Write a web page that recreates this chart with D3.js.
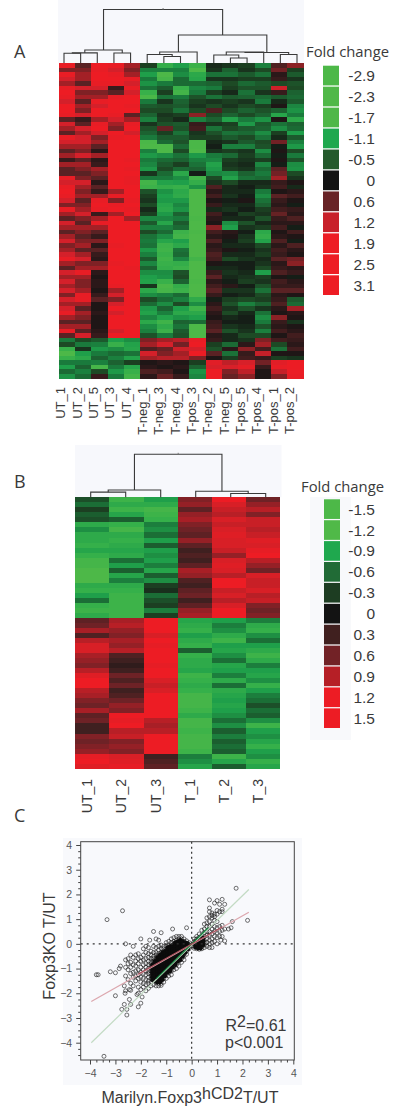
<!DOCTYPE html>
<html>
<head>
<meta charset="utf-8">
<script src="https://d3js.org/d3.v7.min.js"></script>
<style>
  body { margin: 0; background: #fff; }
  svg { display: block; }
  text { font-family: "Liberation Sans", Arial, sans-serif; fill: #3a3a3a; }
  .letter, .legend-title { font-family: "Open Sans", sans-serif; }
</style>
</head>
<body>
<div id="chart"></div>
<script>
// panel A
const labelsA = ["UT_1","UT_2","UT_5","UT_3","UT_4","T-neg_1","T-neg_3","T-neg_4","T-pos_3","T-neg_2","T-neg_5","T-pos_5","T-pos_4","T-pos_1","T-pos_2"];
const levelsA = [-2.9,-2.3,-1.7,-1.1,-0.5,0,0.6,1.2,1.9,2.5,3.1];
const coloursA = ["#4db848","#50b848","#4fb748","#1fa84e","#245a2c","#131313","#682326","#c8202a","#ed1c24","#ed1c24","#ed1c24"];
// 格子用的色阶, 比图例更平缓
const rampA = ["#4db848","#38b04a","#1f9f4a","#1a7a3c","#1d4a25","#131313","#5a2224","#a32026","#d4202a","#e81d25","#ed1c24"];
const ut1A = [2.5,0.9,2.5,1.9,1.2,2.5,3.1,2.5,1.9,3.1,3.1,2.5,0.6,1.9,1.2,0.6,2.5,1.9,1.2,0.6,1.2,0.3,1.2,0.6, 0.6,2.5,1.9,2.5,3.1,2.5,1.9,0.9,2.5,1.2,0.6,1.9,1.2,0.6,1.2,1.9,0.9,1.2,1.9,2.5,1.2,0.6,1.9,1.2,1.9, 1.2,1.9,0.9,1.9,1.2,1.9,2.5,1.2,0.6,1.2,2.5,0.6, -1.1,-0.5,-2.3,-2.9,-2.3,-1.1,-1.7,-0.9,-1.5];
const ut2A = [0.6,0.9,1.2,1.2,0.6,1.9,0.9,1.2,0.6,1.2,0.9,1.9,0.3,0.6,1.9,1.2,1.9,1.9,1.2,0.9,1.9,0.6,1.2,0.9, 0.6,0.9,1.9,1.2,0.9,1.2,0.6,0.9,1.2,1.9,0.9,0.6,1.2,0.9,0.6,0.9,1.2,0.6,1.2,1.9,0.9,1.2,2.5,1.2,0.9, 0.9,1.2,2.5,2.5,1.2,0.6,1.2,0.9,0.6,1.2,0.6,1.9, -0.5,-1.1,-0.3,-1.7,-2.0,-1.1,-0.8,-1.2,-0.9];
const ut5A = [3.1,2.5,3.1,3.1,2.5,1.9,0.9,1.2,2.5,1.9,3.1,3.1,1.2,2.5,3.1,1.9,0.9,1.2,0.6,0.2,1.2,0.2,0.3,1.2, 0.9,0.6,0.2,0.6,0.3,1.2,2.5,3.1,2.5,0.3,1.2,2.5,1.2,0.6,0.3,0.9,0.2,0.6,0.3,0.2,0.9,1.2,0.2,0.1,0.2, 0.2,0.1,0.3,0.6,0.1,0.1,0.2,0.1,0.1,0.1,0.2,0.3, -0.7,-1.2,-1.6,-1.1,-0.8,-1.2,-2.7,-0.5,0.3];
const ut3A = [2.5,1.9,2.5,3.1,2.5,0.3,0.6,2.5,3.1,3.1,3.1,2.5,1.9,1.2,0.9,3.1,2.5,3.1,3.1,3.1,3.1,3.1,3.1,3.1, 3.1,3.1,3.1,3.1,1.2,2.5,0.9,2.5,3.1,1.2,3.1,3.1,3.1,3.1,3.1,3.1,2.5,3.1,3.1,3.1,2.5,3.1,3.1,3.1,3.1, 2.5,1.2,1.9,0.9,1.9,3.1,1.9,3.1,3.1,3.1,1.9,3.1, -1.7,-2.3,-1.4,-0.9,-1.2,-0.8,-1.1,-1.6,-1.1];
const ut4A = [1.2,0.9,1.2,2.5,1.9,2.5,1.9,3.1,3.1,2.5,3.1,0.6,1.2,2.5,3.1,1.9,3.1,3.1,3.1,3.1,3.1,2.5,3.1,2.5, 3.1,2.5,2.5,3.1,3.1,3.1,2.5,3.1,2.5,3.1,1.2,3.1,3.1,3.1,3.1,3.1,3.1,3.1,3.1,3.1,3.1,2.5,3.1,3.1,3.1, 3.1,3.1,3.1,3.1,3.1,3.1,3.1,3.1,3.1,3.1,3.1,3.1, -1.4,-1.8,-1.9,-1.0,-1.8,-0.4,-1.9,-2.3,-2.6];
const tneg1A = [-0.4,-1.2,-1.7,-1.1,-1.5,-1.0,-2.3,-2.8,-1.1,-0.7,-0.5,-0.8,-1.2,-0.3,-0.6,-0.8,-1.1,-2.8,-2.9,-1.2,-1.6,-1.1,-1.3,-1.6, -0.3,-1.1,-2.6,-2.4,-0.6,-0.4,-0.3,-0.5,-0.2,-0.4,-1.3,-0.7,-1.2,-0.5,-1.0,-1.1,-1.0,-1.6,-1.2,-0.7,-1.3,-0.8,-1.4,-1.7,-1.8, -0.3,-2.0,-1.4,-0.5,-0.9,-1.6,-1.8,-1.3,-2.0,-1.4,-1.2,-0.6, 0.9,1.2,0.5,1.9,1.2,0.1,0.2,0.5,0.2];
const tneg3A = [-2.2,-1.2,-2.9,-2.7,-1.1,-0.7,-0.4,-1.0,-0.3,-0.6,-0.5,-0.3,-0.4,-0.6,0.7,-0.4,-0.7,-0.9,-2.9,-2.9,-1.4,-0.9,-0.7,-0.5, -0.9,-1.1,-1.8,-2.2,-1.5,-1.7,-1.6,-1.9,-2.0,-1.6,-1.3,-1.9,-1.2,-0.9,-1.4,-1.9,-2.4,-2.5,-2.3,-2.5,-2.3,-2.2,-1.4,-1.5,-2.3, -2.8,-2.7,-1.2,-0.9,-1.4,-0.8,-1.2,-1.8,-2.5,-2.1,-2.4,-1.1, 1.2,1.9,0.7,0.9,1.5,0.2,0.1,0.4,0.7];
const tneg4A = [-1.7,-1.2,-1.4,-0.9,-0.9,-2.3,-2.6,-1.1,-0.8,-0.7,-1.0,-0.4,-0.2,-0.7,-0.6,-1.0,-0.7,-0.6,-0.9,-0.5,-1.0,-0.8,-0.4,-0.9, -2.0,-1.4,-1.7,-2.3,-2.0,-2.1,-1.6,-1.3,-1.5,-0.8,-1.1,-0.7,-0.9,-2.4,-2.6,-1.7,-2.0,-1.0,-0.9,-1.3,-2.2,-2.4,-0.6,-0.5,-0.8, -2.2,-2.4,-0.9,-1.2,-0.5,-1.7,-2.0,-1.5,-0.8,-1.0,-0.7,-0.6, 1.5,0.8,1.8,1.2,1.5,0.1,0.2,0.1,0.3];
const tpos3A = [-2.4,-2.9,-2.0,-1.9,-0.9,-1.3,-1.1,-0.6,-0.4,-0.3,-0.5,1.0,-1.2,0.3,0.4,-0.3,-0.4,-2.8,-2.8,-2.9,-1.6,-1.2,-1.0,-0.8, -0.1,-2.6,-2.2,-1.5,-2.9,-2.9,-2.9,-2.9,-2.9,-2.9,-2.8,-2.9,-2.9,-2.8,-2.9,-2.9,-2.9,-2.9,-2.9,-2.6,-2.9,-2.9,-2.9,-2.9,-2.8, -2.9,-2.9,-2.9,-2.1,-1.4,-2.5,-2.0,-1.7,-0.9,-2.9,-2.9,-2.9, 2.5,3.1,1.9,3.1,0.9,-0.4,-0.8,-1.5,-1.3];
const tneg2A = [-0.2,-0.3,-1.0,-0.3,-0.8,-1.1,-0.4,-1.0,-0.3,-0.5,0.5,-0.5,-0.8,-0.3,-1.0,-0.6,-0.4,-0.2,-0.1,-0.3,-1.1,-1.3,-1.8,-1.6, -1.3,-0.5,-0.3,0.5,0.2,0.4,0.1,0.3,-0.2,0.4,0.2,0.1,1.0,0.4,0.2,0.5,0.2,0.3,0.5,0.4,0.1,-0.2,0.3,0.6,0.2, 0.4,0.6,0.3,-0.1,0.2,0.4,0.2,0.1,0.3,0.4,0.6,0.2, 0.3,-0.4,-0.6,0.6,0.1,2.3,2.0,3.0,3.0];
const tneg5A = [-0.3,-0.8,-1.0,-0.3,-0.5,-0.4,-0.2,-0.7,-0.4,-0.3,-0.5,-0.8,-1.8,-0.4,-0.5,-1.0,-0.7,-0.3,-1.2,-0.4,-0.9,-0.4,-0.3,-0.4, -1.4,-1.8,-0.5,-0.2,-0.2,-0.3,-0.1,-0.2,-0.3,-0.1,-0.2,-1.4,-1.7,0.2,0.1,-0.1,-0.2,0.1,-0.2,-0.5,-0.1,-0.2,-0.3,-0.2,-0.1, 0.2,-0.3,-0.1,-0.4,-0.6,-0.3,-0.5,-0.2,-0.1,-0.3,-0.6,-0.2, -0.2,-0.9,0.2,-1.0,-0.4,1.6,2.0,0.9,0.7];
const tpos5A = [-0.4,-0.3,-0.7,-0.4,-0.9,-0.6,-1.0,-0.8,-0.3,-0.5,-0.8,-0.5,-1.1,-1.6,-0.7,-0.9,-0.5,-0.7,-1.2,-0.3,-0.4,-0.3,-0.2,-0.3, -0.8,-1.0,-0.2,-0.1,-0.2,-0.1,0.1,-0.2,-0.1,-0.4,-0.2,-0.6,-0.3,-0.1,-0.3,-0.4,-0.2,-0.1,-0.2,-0.3,-0.1,-0.1,-0.2,-0.3,-0.4, -0.1,-0.3,-0.2,-0.5,-1.2,-0.6,-0.2,-0.1,-0.1,-0.2,-0.3,-0.5, -0.3,0.2,1.0,0.3,0.4,2.0,2.4,1.6,1.0];
const tpos4A = [-1.2,-0.5,-1.0,-0.4,-0.7,-0.6,-0.3,-0.9,-1.1,-0.4,-0.6,-0.8,-1.5,-0.7,-0.8,-1.4,-1.0,-0.5,-0.6,-1.4,-0.9,-0.4,-1.3,-0.9, -1.1,-0.9,-0.2,-0.3,-1.1,-1.4,-1.0,-0.8,-0.4,-0.3,-0.6,-0.2,-0.4,-2.0,-2.2,-1.8,-0.5,-0.3,-0.4,-0.2,-0.3,-0.5,-1.7,-0.4,-0.3, -0.6,-1.0,-0.5,-0.4,-0.8,-0.3,-1.0,-1.4,-1.1,-0.6,-1.2,-0.5, 0.9,1.2,0.4,1.7,0.3,0.8,0.3,0.1,0.1];
const tpos1A = [0.5,0.8,0.2,0.3,-0.5,1.8,0.3,-0.7,-0.2,0.1,-0.8,-1.9,0.1,-1.0,-1.4,-0.4,-0.2,0.8,-0.1,0.1,-0.1,0.1,-0.1,0.6, 0.8,1.2,0.3,0.4,0.1,0.6,0.3,0.2,0.4,0.7,0.3,0.2,0.4,0.1,0.2,0.5,0.2,0.4,0.3,0.6,0.2,0.3,0.5,0.1,0.4, 0.3,0.6,0.2,0.3,0.5,0.2,0.1,1.0,0.3,0.2,0.4,0.1, 0.4,-0.5,-1.0,0.1,-0.4,2.3,2.5,1.7,0.9];
const tpos2A = [1.0,-0.4,-0.7,-0.3,-0.6,-0.5,-0.8,-0.9,-0.7,-1.3,-1.5,-1.1,-2.0,-0.8,-0.9,-1.7,-0.7,-1.2,-1.6,-0.5,-1.1,-0.6,-1.4,-1.5, -0.5,-0.3,0.1,-0.2,0.2,0.4,0.1,-0.1,0.3,0.2,0.5,0.2,-0.1,0.4,0.1,-0.1,0.5,0.2,0.1,0.8,1.0,0.2,0.3,-0.1,0.2, 0.3,0.6,0.1,-0.7,-0.9,1.2,0.2,0.1,-0.3,0.1,0.2,0.4, 0.3,0.2,0.4,0.1,-0.3,3.0,3.0,2.8,2.5];
const columnsA = [ut1A,ut2A,ut5A,ut3A,ut4A,tneg1A,tneg3A,tneg4A,tpos3A,tneg2A,tneg5A,tpos5A,tpos4A,tpos1A,tpos2A];
// 树: [高度, 左, 右], 叶子是列序号
const treeA = [1, [0.243,[0.19,[0.182,0,1],2],[0.187,3,4]], [0.523,[0.206,[0.159,5,[0.122,6,7]],8],[0.196,[0.206,[0.15,9,[0.093,10,11]],12],[0.159,13,14]]]];

// panel B
const labelsB = ["UT_1","UT_2","UT_3","T_1","T_2","T_3"];
const levelsB = [-1.5,-1.2,-0.9,-0.6,-0.3,0,0.3,0.6,0.9,1.2,1.5];
const coloursB = ["#4db848","#50b948","#1fa84e","#216b36","#1d3d22","#131313","#40201f","#722226","#b61f26","#ed1c24","#ed1c24"];
const rampB = ["#4db848","#35b04a","#1f9f4a","#1b6e36","#1c3f22","#131313","#3f2020","#6e2226","#a81f26","#d81f26","#ed1c24"];
const ut1B = [-0.4,-0.6,-0.3,-0.5,-0.4,-1.1,-0.8,-1.1,-1.1,-1.2,-1.0,-1.2,-1.4,-1.4,-1.5,-1.5,-1.5,-1.1,-1.2,-0.9,-0.6,-1.2,-1.3,-1.1, 0.5,0.6,0.9,0.4,1.0,1.2,1.2,0.9,0.8,0.7,1.0,1.3,1.5,1.5,1.0,0.9,0.7,0.6,0.9,0.5,0.6,0.3,0.3,0.7,0.6,0.7,0.8,1.4,1.5,1.3];
const ut2B = [-1.3,-1.1,-1.3,-1.0,-0.5,-1.2,-1.4,-1.1,-1.2,-1.1,-1.0,-1.1,-0.6,-0.9,-0.5,-1.0,-0.7,-1.1,-1.2,-1.3,-1.3,-1.3,-1.3,-1.3, 0.9,1.0,0.8,0.7,0.9,0.8,1.0,0.4,0.3,0.2,0.3,0.6,0.4,0.6,0.3,0.4,0.6,0.8,0.7,1.5,1.4,1.5,1.0,1.1,0.7,0.8,0.7,1.2,1.3,1.4];
const ut3B = [-0.9,-1.1,-1.4,-1.3,-1.2,-0.7,-0.8,-0.6,-0.9,-0.5,-0.9,-0.8,-0.9,-0.7,-1.0,-0.5,-0.8,-0.3,-0.2,-0.6,-0.4,-0.3,-0.7,-0.3, 1.5,1.5,1.5,1.2,1.5,1.4,1.5,1.5,1.5,1.4,1.5,1.5,1.2,1.1,1.2,1.5,1.5,1.5,1.5,1.5,1.0,0.9,1.0,1.5,1.5,1.5,1.5,0.3,0.4,0.5];
const t1B = [0.7,0.8,0.5,0.8,0.9,0.7,0.6,0.5,0.8,0.5,0.3,0.4,0.3,0.5,0.9,0.8,0.4,0.3,0.5,0.6,0.3,0.5,0.8,0.9, -1.0,-1.1,-1.2,-0.9,-1.1,-1.2,-0.5,-1.2,-1.1,-1.1,-1.0,-1.3,-1.2,-1.1,-1.2,-1.4,-1.4,-1.4,-1.3,-1.1,-1.4,-1.4,-1.3,-1.4,-1.4,-1.4,-1.3,-0.7,-0.8,-1.0];
const t2B = [1.5,1.2,1.1,1.0,1.2,1.1,1.2,1.3,1.2,1.2,1.1,0.8,1.2,1.3,1.2,1.0,1.5,1.5,1.1,1.2,1.0,1.2,1.5,1.5, -0.9,-0.7,-0.8,-1.1,-1.3,-0.9,-1.0,-0.8,-0.6,-1.0,-0.9,-0.7,-1.1,-0.6,-1.1,-1.0,-0.9,-1.0,-0.9,-0.8,-0.6,-0.8,-0.5,-0.7,-0.5,-0.6,-0.5,-1.3,-1.0,-0.5];
const t3B = [0.6,0.8,1.0,0.7,1.1,1.1,1.0,1.1,1.3,1.2,1.4,1.5,1.0,0.8,0.6,1.2,1.1,1.1,1.2,1.0,1.1,0.7,0.6,0.7, -0.7,-1.1,-1.2,-0.8,-0.6,-0.9,-1.1,-1.3,-1.1,-0.7,-0.9,-1.0,-0.8,-1.2,-0.9,-0.7,-0.6,-0.4,-0.6,-0.5,-0.8,-1.3,-0.9,-0.8,-1.0,-1.2,-0.9,-0.8,-1.2,-1.0];
const columnsB = [ut1B,ut2B,ut3B,t1B,t2B,t3B];
const treeB = [1, [0.17,[0.12,0,1],2], [0.14,3,[0.09,4,5]]];

// panel C, 散点按 x 分列存放
const cloudX = [-2.6,-2.5,-2.4,-2.3,-2.2,-2.1,-2.0,-1.9,-1.8,-1.7,-1.6,-1.5,-1.4,-1.3,-1.2,-1.1,-1.0,-0.9,-0.8,-0.7,-0.6,-0.5,-0.4,-0.3,-0.2,-0.1,0.1,0.2,0.3,0.4,0.5,0.6,0.7,0.8,0.9,1.0,1.1,1.2,1.3];
const cloudY = [
  [-0.65,-0.95,-1.3],
  [-0.6,-0.8,-1.05,-1.45],
  [-0.45,-0.75,-0.95,-1.2,-1.6],
  [-0.55,-0.85,-1.15,-1.35,-1.7],
  [-0.45,-0.7,-0.9,-1.1,-1.3,-1.5],
  [-0.4,-0.6,-0.8,-1.05,-1.25,-1.4,-1.75],
  [-0.55,-0.7,-0.95,-1.15,-1.35,-1.55,-1.85],
  [-0.2,-0.45,-0.65,-0.85,-1.05,-1.2,-1.4,-1.6,-1.75],
  [-0.1,-0.35,-0.6,-0.8,-0.95,-1.1,-1.25,-1.45,-1.65,-1.9],
  [-0.15,-0.4,-0.55,-0.7,-0.85,-1.0,-1.1,-1.2,-1.35,-1.5,-1.6,-1.8],
  [-0.3,-0.45,-0.6,-0.7,-0.8,-0.9,-1.0,-1.1,-1.2,-1.3,-1.4,-1.55,-1.7],
  [-0.1,-0.35,-0.5,-0.6,-0.7,-0.8,-0.9,-1.0,-1.1,-1.2,-1.3,-1.4,-1.5,-1.65],
  [-0.15,-0.35,-0.45,-0.55,-0.65,-0.75,-0.85,-0.95,-1.05,-1.15,-1.25,-1.35,-1.45,-1.55,-1.7],
  [-0.1,-0.25,-0.4,-0.5,-0.6,-0.7,-0.8,-0.9,-1.0,-1.1,-1.2,-1.3,-1.4,-1.5,-1.6,-1.7],
  [-0.05,-0.2,-0.35,-0.45,-0.55,-0.65,-0.75,-0.85,-0.95,-1.05,-1.15,-1.25,-1.35,-1.45,-1.6,-1.68],
  [-0.1,-0.2,-0.3,-0.4,-0.5,-0.6,-0.7,-0.8,-0.9,-1.0,-1.1,-1.2,-1.3,-1.4,-1.55],
  [0.05,-0.1,-0.25,-0.35,-0.45,-0.55,-0.65,-0.75,-0.85,-0.95,-1.05,-1.15,-1.25,-1.4],
  [0.1,-0.05,-0.15,-0.25,-0.35,-0.45,-0.55,-0.65,-0.75,-0.85,-0.95,-1.05,-1.15,-1.3],
  [0.2,0.05,-0.1,-0.2,-0.3,-0.4,-0.5,-0.6,-0.7,-0.8,-0.9,-1.0,-1.1,-1.25],
  [0.25,0.1,0,-0.1,-0.2,-0.3,-0.4,-0.5,-0.6,-0.7,-0.8,-0.9,-1.05],
  [0.3,0.15,0.05,-0.05,-0.15,-0.25,-0.35,-0.45,-0.55,-0.65,-0.75,-0.85,-1.0],
  [0.3,0.2,0.1,0,-0.1,-0.2,-0.3,-0.4,-0.5,-0.6,-0.7,-0.9],
  [0.3,0.2,0.1,0,-0.1,-0.2,-0.3,-0.4,-0.5,-0.6,-0.75],
  [0.2,0.1,0,-0.1,-0.2,-0.3,-0.4,-0.5,-0.65],
  [0.12,0.02,-0.08,-0.18,-0.3,-0.42],
  [0.05,-0.05,-0.12,-0.2],
  [0.2,0.1,0.0,-0.1,-0.18],
  [0.3,0.2,0.1,0.0,-0.1,-0.2],
  [0.4,0.25,0.15,0.05,-0.05,-0.15,-0.22],
  [0.55,0.35,0.2,0.1,0,-0.1,-0.2],
  [0.8,0.6,0.45,0.3,0.15,0.05,-0.05,-0.15],
  [1.05,0.85,0.7,0.5,0.35,0.2,0.05,-0.1],
  [1.78,1.45,1.3,1.1,0.9,0.7,0.5,0.35,0.15,0.0,-0.15],
  [1.25,1.15,1.05,0.8,0.6,0.4,0.2,0.05,-0.15],
  [1.65,1.2,1.1,0.95,0.7,0.5,0.3,0.1],
  [1.75,1.35,1.2,0.9,0.65,0.45,0.25,0.0],
  [1.6,1.3,0.7,0.5,0.3],
  [1.8,1.4,1.3,0.75,0.55,0.3],
  [1.6,0.6,0.12]
];
// 点云核心, 黑色的部分
const coreX = [-1.55,-1.45,-1.35,-1.25,-1.15,-1.05,-0.95,-0.85,-0.75,-0.65,-0.55,-0.45,-0.35,-0.25,-0.15,0.15,0.25,0.35,0.45];
const coreY = [
  [-0.85,-0.95,-1.05,-1.15,-1.25,-1.35,-1.45],
  [-0.7,-0.8,-0.9,-1.0,-1.1,-1.2,-1.3,-1.4,-1.5],
  [-0.55,-0.65,-0.75,-0.85,-0.95,-1.05,-1.15,-1.25,-1.35,-1.45,-1.55],
  [-0.45,-0.55,-0.65,-0.75,-0.85,-0.95,-1.05,-1.15,-1.25,-1.35,-1.45,-1.55],
  [-0.35,-0.45,-0.55,-0.65,-0.75,-0.85,-0.95,-1.05,-1.15,-1.25,-1.35,-1.45],
  [-0.3,-0.4,-0.5,-0.6,-0.7,-0.8,-0.9,-1.0,-1.1,-1.2,-1.3],
  [-0.15,-0.25,-0.35,-0.45,-0.55,-0.65,-0.75,-0.85,-0.95,-1.05,-1.15],
  [-0.1,-0.2,-0.3,-0.4,-0.5,-0.6,-0.7,-0.8,-0.9,-1.0,-1.1],
  [-0.05,-0.15,-0.25,-0.35,-0.45,-0.55,-0.65,-0.75,-0.85,-0.95],
  [0.05,-0.05,-0.15,-0.25,-0.35,-0.45,-0.55,-0.65,-0.75,-0.85],
  [0.1,0,-0.1,-0.2,-0.3,-0.4,-0.5,-0.6,-0.7],
  [0.15,0.05,-0.05,-0.15,-0.25,-0.35,-0.45,-0.55,-0.65],
  [0.1,0,-0.1,-0.2,-0.3,-0.4,-0.5],
  [0.05,-0.05,-0.15,-0.25,-0.35],
  [0.02,-0.06,-0.14,-0.22],
  [0.1,0.02,-0.06,-0.14],
  [0.2,0.1,0,-0.1,-0.18],
  [0.2,0.1,0,-0.1,-0.18],
  [0.25,0.15,0.05,-0.05]
];
// 离群点
const outliers = [[-3.33,0.98],[-2.72,1.34],[-3.45,-4.55],[-3.75,-1.25],[-3.68,-1.25],[-3.2,-1.13],[-3.0,-1.17],[-2.6,0.0],[-2.85,-1.0],[-2.8,-0.9],[-2.3,-0.1],[-2.0,0.2],[-1.65,0.15],[-1.5,0.5],[-1.4,0.2],[-1.3,0.15],[-1.2,0.45],[-0.75,0.6],[-0.2,0.65],[-3.0,-2.1],[-2.65,-1.7],[-2.6,-1.9],[-2.62,-2.0],[-2.45,-1.85],[-2.4,-1.88],[-2.65,-2.45],[-2.75,-2.65],[-2.55,-2.65],[-2.45,-2.25],[-2.4,-2.45],[-2.55,-2.88],[-2.15,-2.05],[-2.1,-2.0],[-2.1,-2.55],[-2.0,-2.4],[-1.95,-2.15],[1.75,2.25],[2.2,0.95],[1.6,0.9],[1.55,0.65],[1.45,0.6],[1.15,0.15]];
// 回归线: 两端点 + 点云内部颜色更深的一段
const redLine = [[-3.95,-2.33],[2.25,1.28]];
const redLineDark = [[-2.1,-1.22],[1.2,0.68]];
const greenLine = [[-3.95,-4.0],[2.25,2.2]];
const greenLineDark = [[-1.4,-1.42],[0.65,0.65]];
const scatterTicks = [-4,-3,-2,-1,0,1,2,3,4];
const scatterMinorTicks = d3.range(-4.5, 4.01, 0.25).filter(d => !Number.isInteger(d));

const svg = d3.select("#chart").append("svg")
    .attr("width", 400)
    .attr("height", 1111);

// 绘制树状图, 返回节点的 x 位置
function drawTree(g, node, leafX, heightY) {
    if (!Array.isArray(node)) return leafX(node);
    const x0 = drawTree(g, node[1], leafX, heightY);
    const x1 = drawTree(g, node[2], leafX, heightY);
    const h0 = Array.isArray(node[1]) ? node[1][0] : 0;
    const h1 = Array.isArray(node[2]) ? node[2][0] : 0;
    const y = heightY(node[0]);
    g.append("path")
        .attr("d", `M${x0},${heightY(h0)}V${y}H${x1}V${heightY(h1)}`)
        .attr("fill", "none")
        .attr("stroke", "#3a3a3a")
        .attr("stroke-width", 1.1);
    return (x0 + x1) / 2;
}

function drawHeatmap(opt) {
    const g = svg.append("g");

    // 树状图背景
    g.append("rect")
        .attr("x", opt.bgX).attr("y", opt.bgY)
        .attr("width", opt.bgW).attr("height", opt.heatTop - opt.bgY)
        .attr("fill", "#f7f8fc");

    const x = d3.scaleBand().domain(d3.range(opt.columns.length)).range([opt.heatLeft, opt.heatRight]);
    const y = d3.scaleBand().domain(d3.range(opt.columns[0].length)).range([opt.heatTop, opt.heatBottom]);
    const colour = d3.scaleLinear().domain(opt.levels).range(opt.ramp).clamp(true);

    const cells = g.append("g").attr("shape-rendering", "crispEdges");
    opt.columns.forEach((col, i) => {
        cells.selectAll(null)
            .data(col)
            .enter()
            .append("rect")
            .attr("x", x(i))
            .attr("y", (d, r) => y(r))
            .attr("width", x.bandwidth())
            .attr("height", y.bandwidth() + 0.5)
            .attr("fill", d => colour(d));
    });

    // 树状图
    const leafX = d3.scalePoint().domain(d3.range(opt.columns.length)).range(opt.leafRange);
    const heightY = d3.scaleLinear().domain([0, 1]).range([opt.heatTop, opt.treeTop]);
    const rootX = drawTree(g, opt.tree, leafX, heightY);
    g.append("line")
        .attr("x1", rootX).attr("x2", rootX)
        .attr("y1", opt.treeTop).attr("y2", opt.treeTop - 1.5)
        .attr("stroke", "#777");

    // 列标签
    g.selectAll(".col-label")
        .data(opt.labels)
        .enter()
        .append("text")
        .attr("class", "col-label")
        .attr("transform", (d, i) => `translate(${x(i) + x.bandwidth() / 2 + opt.labelShift},${opt.labelTop}) rotate(-90)`)
        .attr("text-anchor", "end")
        .attr("font-size", opt.labelSize)
        .text(d => d);

    // 图例
    const legendY = d3.scaleBand().domain(opt.levels).range(opt.legendRange).paddingInner(0.06);
    if (opt.legendBg) {
        g.append("rect")
            .attr("x", opt.legendBg[0]).attr("y", opt.legendBg[1])
            .attr("width", opt.legendBg[2]).attr("height", opt.legendBg[3])
            .attr("fill", "#f8f9fb");
    }
    g.selectAll(".swatch")
        .data(opt.levels)
        .enter()
        .append("rect")
        .attr("class", "swatch")
        .attr("x", opt.legendX)
        .attr("y", d => legendY(d))
        .attr("width", 16)
        .attr("height", legendY.bandwidth())
        .attr("fill", (d, i) => opt.colours[i]);
    g.selectAll(".swatch-label")
        .data(opt.levels)
        .enter()
        .append("text")
        .attr("class", "swatch-label")
        .attr("x", 375)
        .attr("y", d => legendY(d) + legendY.bandwidth() / 2 + 5.5)
        .attr("text-anchor", "end")
        .attr("font-size", 15.5)
        .text(d => d);
    g.append("text")
        .attr("class", "legend-title")
        .attr("x", opt.titleX)
        .attr("y", opt.titleY)
        .attr("font-size", 14.8)
        .text("Fold change");
}

drawHeatmap({
    columns: columnsA, labels: labelsA, levels: levelsA, colours: coloursA, ramp: rampA, tree: treeA,
    bgX: 58, bgY: 0, bgW: 246, heatLeft: 58.7, heatRight: 303.7, heatTop: 63, heatBottom: 378,
    treeTop: 9.5, leafRange: [64, 297], labelTop: 387, labelSize: 13, labelShift: -1.5,
    legendX: 323, legendRange: [65.7, 295], titleX: 306, titleY: 56.5
});

drawHeatmap({
    columns: columnsB, labels: labelsB, levels: levelsB, colours: coloursB, ramp: rampB, tree: treeB,
    bgX: 75, bgY: 445, bgW: 206.5, heatLeft: 75.3, heatRight: 280, heatTop: 497.3, heatBottom: 768.7,
    treeTop: 454.3, leafRange: [90.7, 265.7], labelTop: 779, labelSize: 14, labelShift: 0,
    legendX: 324, legendRange: [499.3, 728], legendBg: [310, 497, 41, 243], titleX: 301, titleY: 491.5
});

// 面板字母
[["A", 58], ["B", 487.5], ["C", 822]].forEach(([t, y]) => {
    svg.append("text")
        .attr("class", "letter")
        .attr("x", 14)
        .attr("y", y)
        .attr("font-size", 18)
        .text(t);
});

// 散点图
const sx = d3.scaleLinear().domain([-4, 4]).range([90, 293.3]);
const sy = d3.scaleLinear().domain([-4, 4]).range([1042.7, 845]);
const frame = { left: 80.7, right: 294.3, top: 841.7, bottom: 1060 };

svg.append("rect")
    .attr("x", 63).attr("y", 838)
    .attr("width", 239).attr("height", 247)
    .attr("fill", "#f8f9fc");

const scatter = svg.append("g");

const points = outliers.slice();
cloudX.forEach((x, i) => cloudY[i].forEach(y => points.push([x, y])));
const corePoints = [];
coreX.forEach((x, i) => coreY[i].forEach(y => corePoints.push([x, y])));

scatter.selectAll(".pt")
    .data(points)
    .enter()
    .append("circle")
    .attr("class", "pt")
    .attr("cx", d => sx(d[0]))
    .attr("cy", d => sy(d[1]))
    .attr("r", 2)
    .attr("fill", "none")
    .attr("stroke", "#1e1e1e")
    .attr("stroke-width", 0.9)
    .attr("stroke-opacity", 0.7);

// 核心点重叠成一片黑色
scatter.selectAll(".core")
    .data(corePoints)
    .enter()
    .append("circle")
    .attr("class", "core")
    .attr("cx", d => sx(d[0]))
    .attr("cy", d => sy(d[1]))
    .attr("r", 2.2)
    .attr("fill", "#0c0c0c");

// 零线
scatter.append("line")
    .attr("x1", frame.left).attr("x2", frame.right)
    .attr("y1", sy(0)).attr("y2", sy(0))
    .attr("stroke", "#333").attr("stroke-width", 1.4).attr("stroke-dasharray", "2 4");
scatter.append("line")
    .attr("x1", sx(0)).attr("x2", sx(0))
    .attr("y1", frame.top).attr("y2", frame.bottom)
    .attr("stroke", "#333").attr("stroke-width", 1.2).attr("stroke-dasharray", "2 3");

// 回归线
const regression = d3.line().x(d => sx(d[0])).y(d => sy(d[1]));
[[greenLine, "#c3dbc4"], [redLine, "#dca6ad"], [greenLineDark, "#1c8a45"], [redLineDark, "#a8505c"]].forEach(([pts, c]) => {
    scatter.append("path")
        .attr("d", regression(pts))
        .attr("fill", "none")
        .attr("stroke", c)
        .attr("stroke-width", 1.2);
});

// 边框
svg.append("rect")
    .attr("x", frame.left).attr("y", frame.top)
    .attr("width", frame.right - frame.left).attr("height", frame.bottom - frame.top)
    .attr("fill", "none")
    .attr("stroke", "#444");

// 坐标轴
const xAxis = svg.append("g").attr("transform", `translate(0,${frame.bottom})`);
xAxis.call(d3.axisBottom(sx).tickValues(scatterMinorTicks.filter(d => d >= -4)).tickSize(2.5).tickFormat(""));
const xMajor = svg.append("g").attr("transform", `translate(0,${frame.bottom})`);
xMajor.call(d3.axisBottom(sx).tickValues(scatterTicks).tickSize(4.5).tickPadding(5).tickFormat(d3.format("d")));
const yAxis = svg.append("g").attr("transform", `translate(${frame.left},0)`);
yAxis.call(d3.axisLeft(sy).tickValues(scatterMinorTicks).tickSize(2.5).tickFormat(""));
const yMajor = svg.append("g").attr("transform", `translate(${frame.left},0)`);
yMajor.call(d3.axisLeft(sy).tickValues(scatterTicks).tickSize(4.5).tickPadding(4).tickFormat(d3.format("d")));
svg.selectAll(".domain").remove();
[xAxis, xMajor, yAxis, yMajor].forEach(a => {
    a.selectAll("line").attr("stroke", "#444");
    a.selectAll("text")
        .style("font-family", '"Liberation Sans", Arial, sans-serif')
        .style("font-size", "10.5px")
        .style("fill", "#555");
});

// 轴标题
svg.append("text")
    .attr("transform", "translate(55,946) rotate(-90)")
    .attr("text-anchor", "middle")
    .attr("font-size", 16)
    .text("Foxp3KO T/UT");

const xTitle = svg.append("text")
    .attr("x", 101.5)
    .attr("y", 1102.5)
    .attr("font-size", 16);
xTitle.append("tspan").text("Marilyn.Foxp3");
xTitle.append("tspan").attr("dy", -4).text("hCD2");
xTitle.append("tspan").attr("dy", 4).text("T/UT");

// 统计文字
const r2 = svg.append("text")
    .attr("x", 225.5)
    .attr("y", 1031)
    .attr("font-size", 16);
r2.append("tspan").text("R");
r2.append("tspan").attr("dy", -4).text("2");
r2.append("tspan").attr("dy", 4).text("=0.61");
svg.append("text")
    .attr("x", 225)
    .attr("y", 1048)
    .attr("font-size", 16)
    .text("p<0.001");
</script>
</body>
</html>
